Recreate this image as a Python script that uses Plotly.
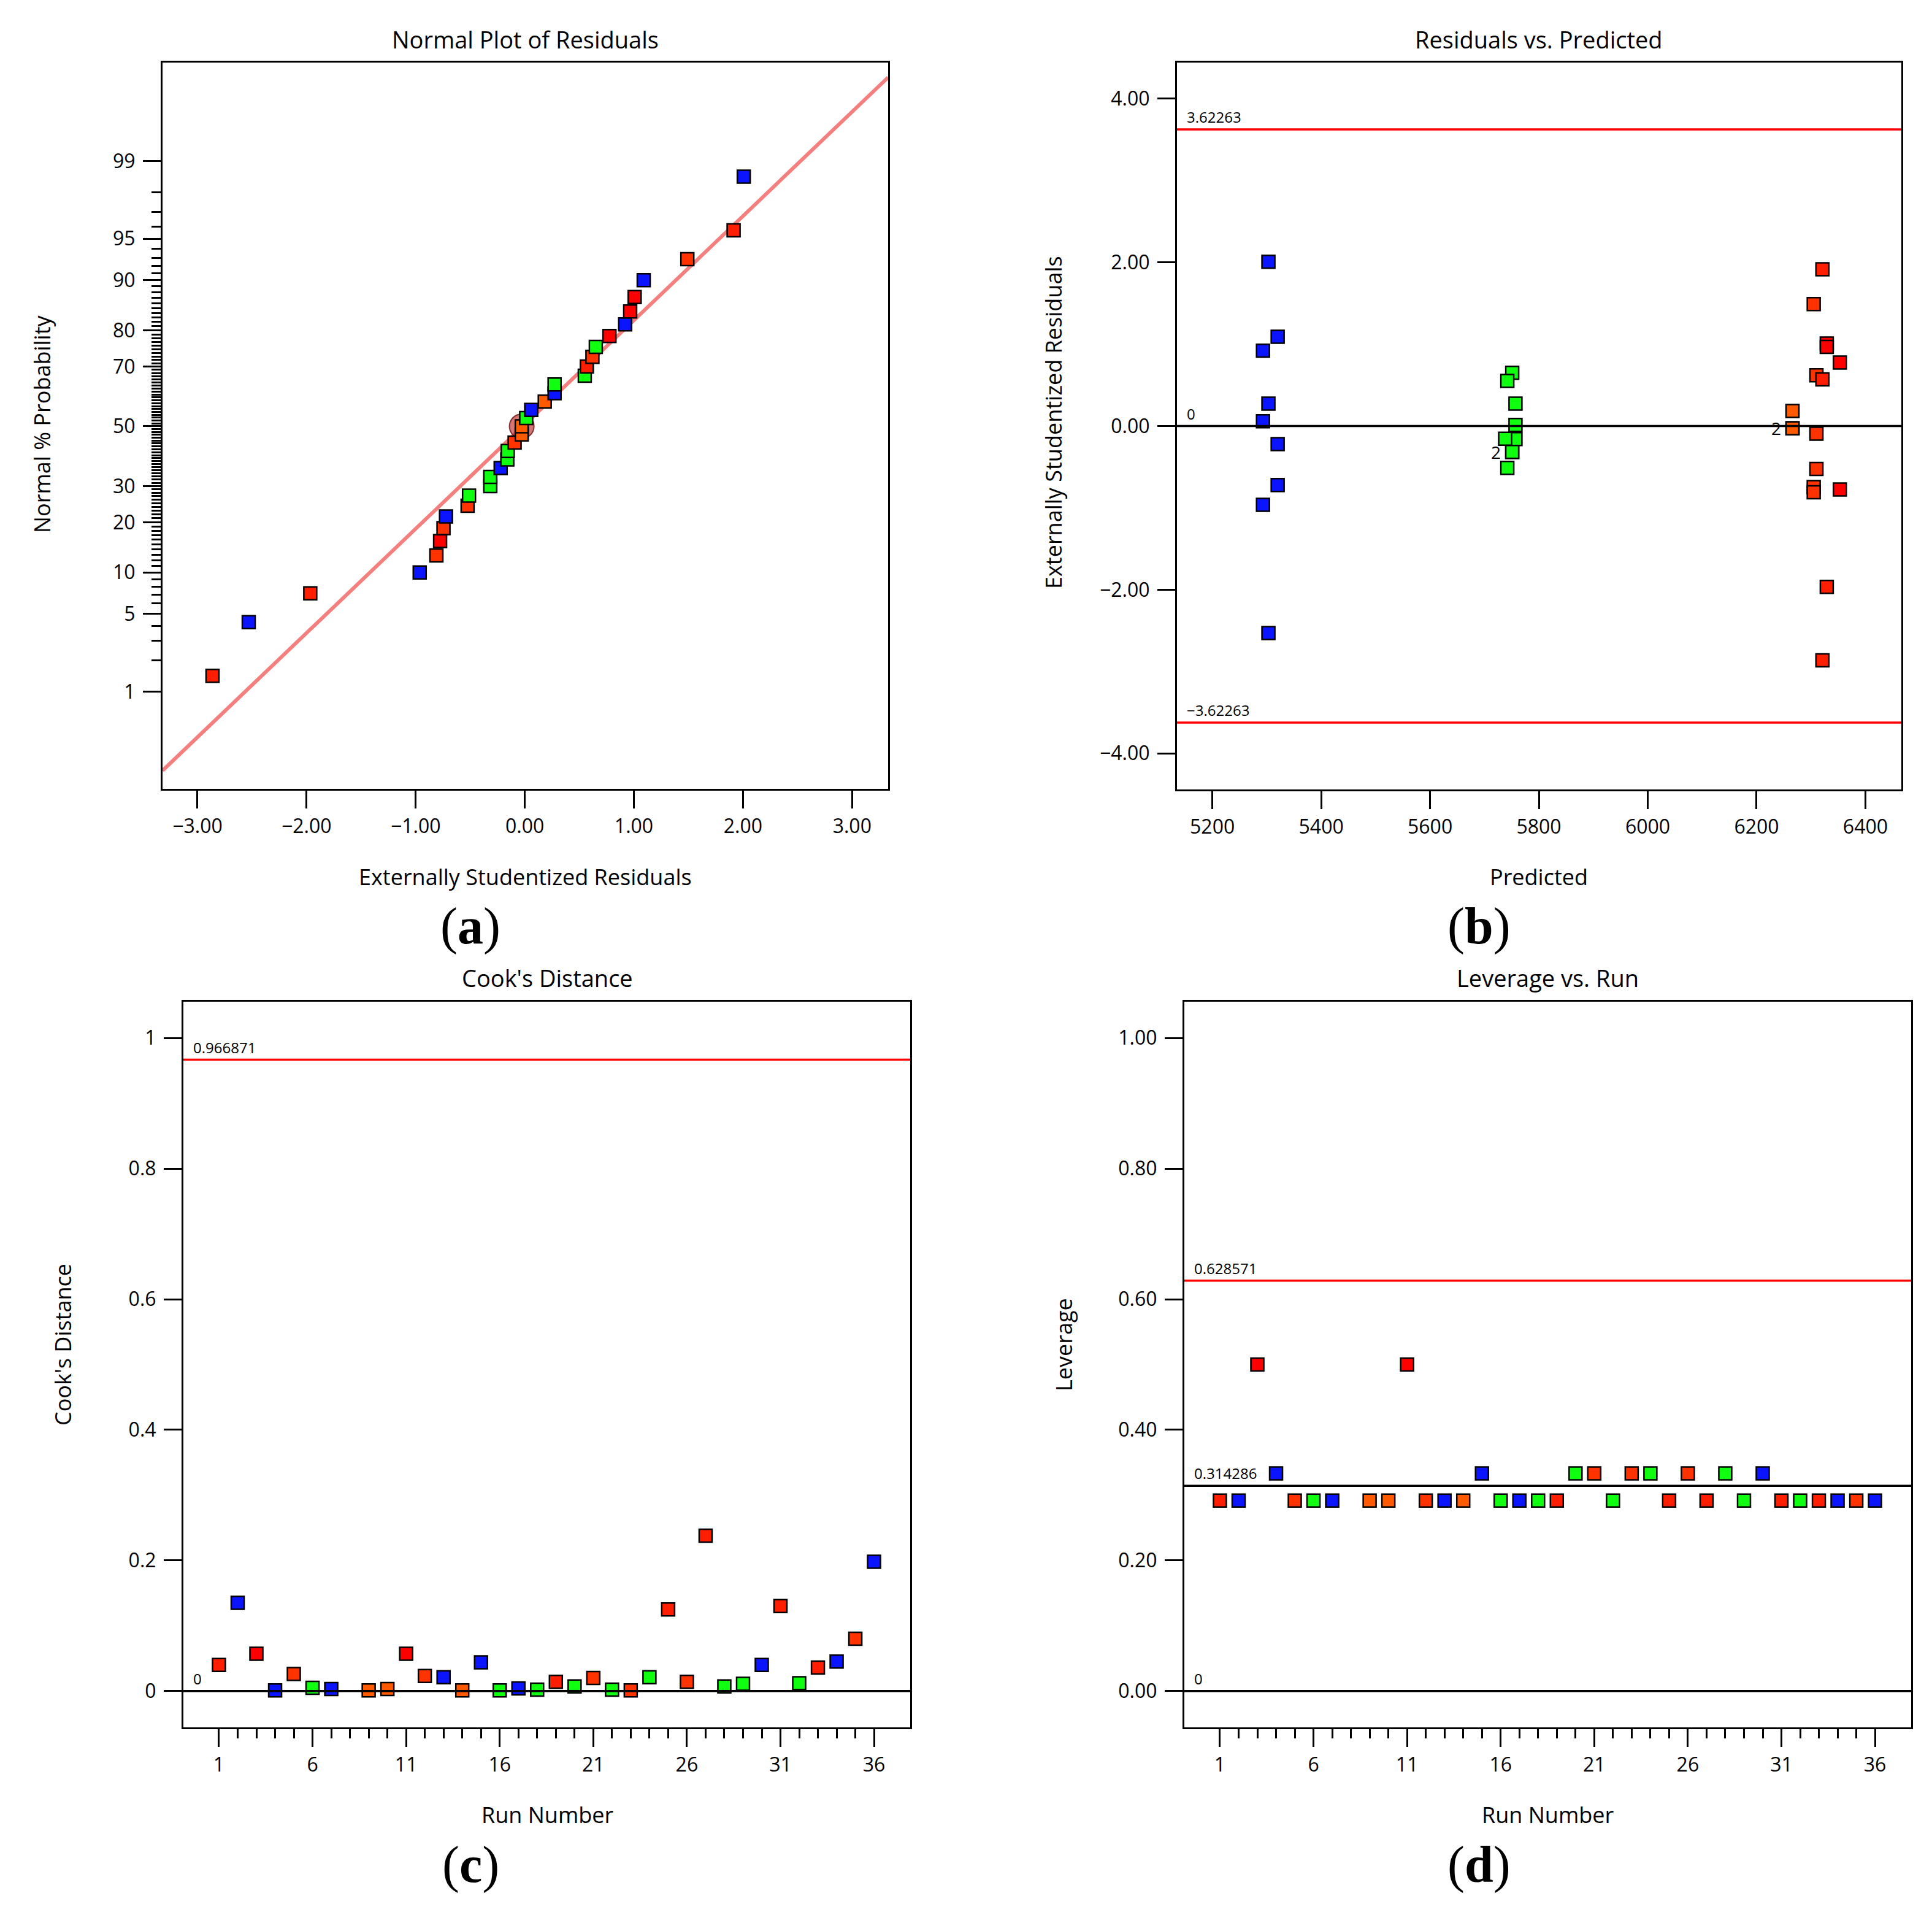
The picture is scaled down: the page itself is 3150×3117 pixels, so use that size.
from statistics import NormalDist

import plotly.graph_objects as go

W, H = 3150, 3117

BLU = "#0A14FF"
GRN = "#10FF10"
RED = "#FF0000"
RED2 = "#FF1E00"
ORR = "#FF3300"
ORG = "#FF5A00"

# (a) normal plot: sorted residuals, their normal % probability and colour
normal_resid = [-2.862, -2.53, -1.966, -0.963, -0.81, -0.776, -0.745, -0.722, -0.524,
                -0.511, -0.316, -0.316, -0.221, -0.16, -0.156, -0.093, -0.028, -0.028,
                0.013, 0.059, 0.183, 0.273, 0.273, 0.55, 0.569, 0.62, 0.651, 0.776,
                0.92, 0.966, 1.007, 1.09, 1.49, 1.914, 2.007]
normal_pct = [1.43, 4.29, 7.14, 10.0, 12.86, 15.71, 18.57, 21.43, 24.29, 27.14, 30.0,
              32.86, 35.71, 38.57, 41.43, 44.29, 47.14, 50.0, 52.86, 55.71, 58.57,
              61.43, 64.29, 67.14, 70.0, 72.86, 75.71, 78.57, 81.43, 84.29, 87.14,
              90.0, 92.86, 95.71, 98.57]
normal_color = [RED2, BLU, RED2, BLU, ORR, RED, ORR, BLU, ORR, GRN, GRN, GRN, BLU, GRN,
                GRN, ORR, ORG, ORG, GRN, BLU, ORG, BLU, GRN, GRN, RED2, ORR, GRN, RED,
                BLU, RED, RED, BLU, ORR, RED2, BLU]
normal_line_x = [-3.32, 3.33]
normal_line_z = [-3.02, 3.06]
highlight_resid = [-0.028]
highlight_pct = [50.0]
prob_labels = [1, 5, 10, 20, 30, 50, 70, 80, 90, 95, 99]
prob_minor = list(range(1, 100))

# (b) residuals vs predicted
pred_x = [5303, 5320, 5293, 5303, 5293, 5320, 5320, 5293, 5303,
          5751, 5742, 5757, 5757, 5757, 5738, 5751, 5751, 5742,
          6321, 6305, 6329, 6329, 6353, 6310, 6321, 6266, 6266, 6266,
          6310, 6310, 6305, 6305, 6353, 6329, 6321]
pred_resid = [2.007, 1.09, 0.92, 0.273, 0.059, -0.221, -0.722, -0.963, -2.53,
              0.651, 0.55, 0.273, 0.013, -0.16, -0.156, -0.316, -0.316, -0.511,
              1.914, 1.49, 1.007, 0.966, 0.776, 0.62, 0.569, 0.183, -0.028, -0.028,
              -0.093, -0.524, -0.745, -0.81, -0.776, -1.966, -2.862]
pred_color = [BLU] * 9 + [GRN] * 9 + [RED2, ORR, RED, RED, RED, ORR, RED2, ORG, ORG, ORG,
                                      ORR, ORR, ORR, ORR, RED, RED2, RED2]
resid_limit = 3.62263
dup_x = [5751, 6266]
dup_y = [-0.316, -0.028]
dup_text = ["2", "2"]

# (c) and (d) per run (run 8 not used)
runs = [1, 2, 3, 4, 5, 6, 7, 9, 10, 11, 12, 13, 14, 15, 16, 17, 18, 19, 20, 21, 22,
        23, 24, 25, 26, 27, 28, 29, 30, 31, 32, 33, 34, 35, 36]
run_color = [RED2, BLU, RED, BLU, ORR, GRN, BLU, ORG, ORG, RED, ORR, BLU, ORG, BLU, GRN,
             BLU, GRN, RED2, GRN, ORR, GRN, ORR, GRN, RED2, ORR, RED2, GRN, GRN, BLU,
             RED2, GRN, RED2, BLU, ORR, BLU]
cooks = [0.040, 0.135, 0.057, 0.001, 0.026, 0.005, 0.003, 0.001, 0.003, 0.057, 0.023,
         0.021, 0.001, 0.044, 0.001, 0.004, 0.002, 0.014, 0.007, 0.020, 0.002, 0.001,
         0.021, 0.125, 0.014, 0.238, 0.007, 0.011, 0.040, 0.130, 0.012, 0.036, 0.045,
         0.080, 0.198]
cooks_limit = 0.966871
leverage = [0.2917, 0.2917, 0.5, 0.3333, 0.2917, 0.2917, 0.2917, 0.2917, 0.2917, 0.5,
            0.2917, 0.2917, 0.2917, 0.3333, 0.2917, 0.2917, 0.2917, 0.2917, 0.3333,
            0.3333, 0.2917, 0.3333, 0.3333, 0.2917, 0.3333, 0.2917, 0.3333, 0.2917,
            0.3333, 0.2917, 0.2917, 0.2917, 0.2917, 0.2917, 0.2917]
lev_limit = 0.628571
lev_avg = 0.314286
run_ticks = [1, 6, 11, 16, 21, 26, 31, 36]
run_minor = list(range(1, 37))

FONT = "Open Sans, Noto Sans, sans-serif"
nd = NormalDist()


def z(p):
    return nd.inv_cdf(p / 100.0)


def px_x(v):
    return v / W


def px_y(v):
    return 1 - v / H


def square(x, y, colors, xa, ya):
    return go.Scatter(x=x, y=y, mode="markers", xaxis=xa, yaxis=ya, showlegend=False,
                      marker=dict(symbol="square", size=21, color=colors,
                                  line=dict(color="black", width=2.5)))


fig = go.Figure()

# (a)
fig.add_trace(go.Scatter(x=normal_line_x, y=normal_line_z, mode="lines", showlegend=False,
                         line=dict(color="#F47F7F", width=6), xaxis="x", yaxis="y"))
fig.add_trace(go.Scatter(x=highlight_resid, y=[z(p) for p in highlight_pct], mode="markers",
                         showlegend=False, xaxis="x", yaxis="y",
                         marker=dict(symbol="circle", size=40, color="rgba(200,60,60,0.7)",
                                     line=dict(color="rgba(110,25,25,0.85)", width=2))))
fig.add_trace(square(normal_resid, [z(p) for p in normal_pct], normal_color, "x", "y"))

# (b)
fig.add_trace(square(pred_x, pred_resid, pred_color, "x2", "y2"))
for x, y, t in zip(dup_x, dup_y, dup_text):
    fig.add_annotation(xref="x2", yref="y2", x=x, y=y, text=t, showarrow=False,
                       xanchor="right", yanchor="middle", xshift=-17,
                       font=dict(family=FONT, size=28, color="black"))

# (c)
fig.add_trace(square(runs, cooks, run_color, "x3", "y3"))

# (d)
fig.add_trace(square(runs, leverage, run_color, "x4", "y4"))

frame = dict(showline=True, mirror=True, linecolor="black", linewidth=3, ticks="outside",
             tickcolor="black", tickwidth=3, ticklen=29, showgrid=False, zeroline=False,
             tickfont=dict(family=FONT, size=32, color="black"))

doms = {
    "a": ([257, 1440], [94, 1278]),
    "b": ([1911, 3092], [94, 1279]),
    "c": ([291, 1476], [1625, 2808]),
    "d": ([1923, 3108], [1625, 2808]),
}


def dom(k):
    xs, ys = doms[k]
    return [px_x(xs[0]), px_x(xs[1])], [px_y(ys[1]), px_y(ys[0])]


run_axis = dict(frame, tickmode="array", tickvals=run_ticks, range=[-0.9, 37.93],
                ticklabelstandoff=2,
                minor=dict(tickmode="array", tickvals=run_minor, ticks="outside", ticklen=15,
                           tickwidth=3, tickcolor="black"))

fig.update_layout(
    width=W, height=H, paper_bgcolor="white", plot_bgcolor="white",
    margin=dict(l=0, r=0, t=0, b=0), showlegend=False,
    xaxis=dict(frame, domain=dom("a")[0], anchor="y", range=[-3.32, 3.33],
               tickvals=[-3, -2, -1, 0, 1, 2, 3], tickformat=".2f", ticklabelstandoff=2),
    yaxis=dict(frame, domain=dom("a")[1], anchor="x", range=[-3.18, 3.19],
               tickmode="array", tickvals=[z(p) for p in prob_labels],
               ticktext=[str(p) for p in prob_labels], ticklabelstandoff=6,
               minor=dict(tickmode="array", tickvals=[z(p) for p in prob_minor],
                          ticks="outside", ticklen=15, tickwidth=3, tickcolor="black")),
    xaxis2=dict(frame, domain=dom("b")[0], anchor="y2", range=[5135, 6466],
                tickvals=[5200, 5400, 5600, 5800, 6000, 6200, 6400], ticklabelstandoff=2),
    yaxis2=dict(frame, domain=dom("b")[1], anchor="x2", range=[-4.44, 4.44],
                tickvals=[-4, -2, 0, 2, 4], tickformat=".2f", ticklabelstandoff=6),
    xaxis3=dict(run_axis, domain=dom("c")[0], anchor="y3"),
    yaxis3=dict(frame, domain=dom("c")[1], anchor="x3", range=[-0.0557, 1.0557],
                tickvals=[0, 0.2, 0.4, 0.6, 0.8, 1], ticklabelstandoff=6),
    xaxis4=dict(run_axis, domain=dom("d")[0], anchor="y4"),
    yaxis4=dict(frame, domain=dom("d")[1], anchor="x4", range=[-0.0557, 1.0557],
                tickvals=[0, 0.2, 0.4, 0.6, 0.8, 1], tickformat=".2f", ticklabelstandoff=6),
)

# reference lines
ref_lines = [
    ("x2", "y2", resid_limit, "red", "3.62263"),
    ("x2", "y2", 0, "black", "0"),
    ("x2", "y2", -resid_limit, "red", "\u22123.62263"),
    ("x3", "y3", cooks_limit, "red", "0.966871"),
    ("x3", "y3", 0, "black", "0"),
    ("x4", "y4", lev_limit, "red", "0.628571"),
    ("x4", "y4", lev_avg, "black", "0.314286"),
    ("x4", "y4", 0, "black", "0"),
]
for xa, ya, val, col, txt in ref_lines:
    fig.add_shape(type="line", xref=xa + " domain", yref=ya, x0=0, x1=1, y0=val, y1=val,
                  line=dict(color=col, width=3.5))
    fig.add_annotation(xref=xa + " domain", yref=ya, x=0.012, y=val, text=txt,
                       showarrow=False, xanchor="left", yanchor="bottom", yshift=2,
                       font=dict(family=FONT, size=24, color="black"))

# titles and axis titles
titles = [
    (848, 56, "Normal Plot of Residuals"),
    (2501, 56, "Residuals vs. Predicted"),
    (884, 1586, "Cook's Distance"),
    (2515, 1586, "Leverage vs. Run"),
]
axis_titles = [
    (848, 1421, "Externally Studentized Residuals", 0),
    (2501, 1421, "Predicted", 0),
    (884, 2950, "Run Number", 0),
    (2515, 2950, "Run Number", 0),
    (60, 683, "Normal % Probability", -90),
    (1710, 680, "Externally Studentized Residuals", -90),
    (94, 2184, "Cook's Distance", -90),
    (1726, 2184, "Leverage", -90),
]
for x, y, txt in titles:
    fig.add_annotation(xref="paper", yref="paper", x=px_x(x), y=px_y(y), text=txt,
                       showarrow=False, xanchor="center", yanchor="middle",
                       font=dict(family=FONT, size=38, color="black"))
for x, y, txt, ang in axis_titles:
    fig.add_annotation(xref="paper", yref="paper", x=px_x(x), y=px_y(y), text=txt,
                       showarrow=False, textangle=ang, xanchor="center", yanchor="middle",
                       font=dict(family=FONT, size=36, color="black"))

for x, y, lab in [(759, 1502, "a"), (2403, 1502, "b"), (759, 3032, "c"), (2403, 3032, "d")]:
    fig.add_annotation(xref="paper", yref="paper", x=px_x(x), y=px_y(y),
                       text="(<b>" + lab + "</b>)", showarrow=False,
                       xanchor="center", yanchor="middle",
                       font=dict(family="Liberation Serif, DejaVu Serif, serif", size=84,
                                 color="black"))

fig.write_html("out.html")
